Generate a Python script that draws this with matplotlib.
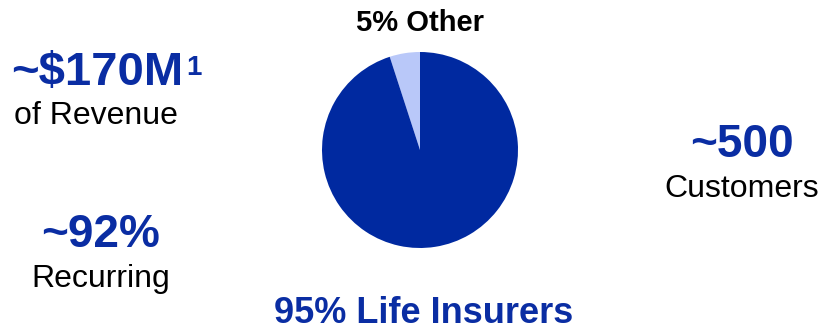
import matplotlib
matplotlib.use("Agg")
import matplotlib.pyplot as plt

# data
segments = ["Other", "Life Insurers"]
shares = [5, 95]
colors = ["#B9C8F9", "#0029A0"]

stats = [("~$170M", "of Revenue"), ("~500", "Customers"), ("~92%", "Recurring")]

W, H = 822, 330
BLUE = "#0A2DA3"
plt.rcParams['font.family'] = ['Liberation Sans', 'DejaVu Sans']

fig = plt.figure(figsize=(W / 100, H / 100), dpi=100)
fig.patch.set_facecolor("white")


def px(x, y):
    return x / W, 1 - y / H


# pie, centred at (420, 150) with radius ~98 px
cx, cy, r = 420, 150, 98
ax = fig.add_axes([(cx - r) / W, 1 - (cy + r) / H, 2 * r / W, 2 * r / H])
ax.pie(shares, colors=colors, startangle=90, counterclock=True,
       wedgeprops=dict(linewidth=0))
ax.set_xlim(-1, 1)
ax.set_ylim(-1, 1)
ax.set_aspect('equal')
ax.axis('off')

fig.text(*px(420, 31), f"{shares[0]}% {segments[0]}", ha='center', va='baseline',
         fontsize=21, fontweight='bold', color='black')
fig.text(*px(424, 323), f"{shares[1]}% {segments[1]}", ha='center', va='baseline',
         fontsize=26, fontweight='bold', color=BLUE)

# left / right stats
fig.text(*px(11, 85), stats[0][0], ha='left', va='baseline',
         fontsize=34, fontweight='bold', color=BLUE)
fig.text(*px(186, 75), "1", ha='left', va='baseline',
         fontsize=20, fontweight='bold', color=BLUE)
fig.text(*px(14, 124), stats[0][1], ha='left', va='baseline', fontsize=23, color='black')

fig.text(*px(742, 157), stats[1][0], ha='center', va='baseline',
         fontsize=33, fontweight='bold', color=BLUE)
fig.text(*px(742, 197), stats[1][1], ha='center', va='baseline', fontsize=23, color='black')

fig.text(*px(101, 247), stats[2][0], ha='center', va='baseline',
         fontsize=33, fontweight='bold', color=BLUE)
fig.text(*px(101, 287), stats[2][1], ha='center', va='baseline', fontsize=23, color='black')

fig.savefig("out.png", dpi=100, facecolor=fig.get_facecolor())
